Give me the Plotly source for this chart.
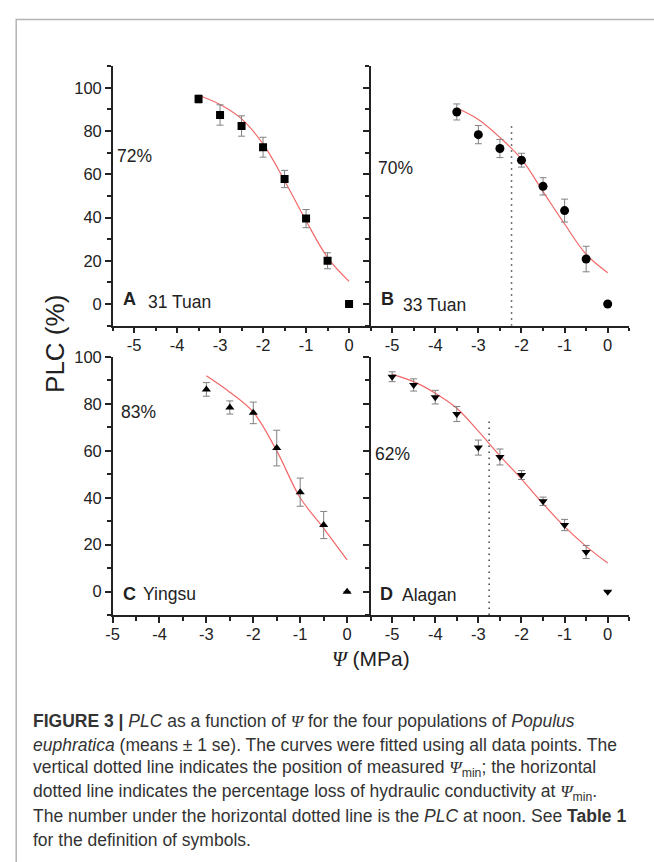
import plotly.graph_objects as go

# ---------------- data ----------------
psi_A = [-3.5, -3.0, -2.5, -2.0, -1.5, -1.0, -0.5, 0.0]
plc_A = [94.8, 87.4, 82.3, 72.5, 57.8, 39.5, 20.0, 0.0]
se_A = [1.9, 4.7, 4.7, 4.6, 4.0, 4.2, 3.7, 0.0]
fit_psi_A = [-3.5, -3.0, -2.5, -2.0, -1.5, -1.0, -0.5, 0.0]
fit_plc_A = [96.5, 92.2, 85.6, 74.0, 57.0, 38.5, 21.5, 10.5]

psi_B = [-3.5, -3.0, -2.5, -2.0, -1.5, -1.0, -0.5, 0.0]
plc_B = [88.8, 78.3, 71.9, 66.5, 54.4, 43.2, 20.8, 0.0]
se_B = [3.7, 4.2, 4.2, 3.2, 4.0, 5.3, 5.9, 0.0]
fit_psi_B = [-3.5, -3.0, -2.5, -2.0, -1.5, -1.0, -0.5, 0.0]
fit_plc_B = [90.6, 85.3, 77.0, 67.0, 52.0, 37.0, 23.0, 14.5]

psi_C = [-3.0, -2.5, -2.0, -1.5, -1.0, -0.5, 0.0]
plc_C = [86.2, 78.5, 76.2, 61.2, 42.4, 28.4, 0.0]
se_C = [2.9, 2.8, 4.6, 7.6, 6.0, 5.8, 0.0]
fit_psi_C = [-3.0, -2.5, -2.0, -1.5, -1.0, -0.5, 0.0]
fit_plc_C = [92.0, 85.0, 76.5, 60.0, 40.0, 27.0, 13.5]

psi_D = [-5.0, -4.5, -4.0, -3.5, -3.0, -2.5, -2.0, -1.5, -1.0, -0.5, 0.0]
plc_D = [91.6, 88.1, 82.9, 75.7, 61.4, 57.4, 49.7, 38.5, 28.4, 16.9, 0.0]
se_D = [2.1, 2.6, 2.9, 3.2, 3.2, 3.4, 1.9, 1.8, 2.4, 2.8, 0.0]
fit_psi_D = [-5.0, -4.5, -4.0, -3.5, -3.0, -2.5, -2.0, -1.5, -1.0, -0.5, 0.0]
fit_plc_D = [92.6, 89.5, 84.6, 78.2, 68.4, 57.9, 48.0, 37.5, 27.7, 19.3, 12.2]

# measured Psi_min (vertical dotted lines) and PLC at noon labels
psimin_B = -2.23
psimin_top_B = 84.0
psimin_D = -2.75
psimin_top_D = 73.6
noon_labels = ["72%", "70%", "83%", "62%"]
panel_letters = ["A", "B", "C", "D"]
panel_names = ["31 Tuan", "33 Tuan", "Yingsu", "Alagan"]
x_ticks = [-5, -4, -3, -2, -1, 0]
y_ticks = [0, 20, 40, 60, 80, 100]

# ---------------- layout helpers ----------------
W, H = 654, 862
FONT = "Liberation Sans"
INK = "#222222"


def px_x(p):
    return p / W


def px_y(p):
    return 1 - p / H


fig = go.Figure()

panels = [
    ("x", "y", psi_A, plc_A, se_A, fit_psi_A, fit_plc_A, "square", 8),
    ("x2", "y2", psi_B, plc_B, se_B, fit_psi_B, fit_plc_B, "circle", 9),
    ("x3", "y3", psi_C, plc_C, se_C, fit_psi_C, fit_plc_C, "triangle-up", 8),
    ("x4", "y4", psi_D, plc_D, se_D, fit_psi_D, fit_plc_D, "triangle-down", 8),
]

for xa, ya, px_, py_, se_, fx, fy, sym, msz in panels:
    fig.add_trace(go.Scatter(
        x=fx, y=fy, xaxis=xa, yaxis=ya, mode="lines",
        line=dict(color="#f26868", width=1.2, shape="spline", smoothing=1.0),
        hoverinfo="skip"))
    fig.add_trace(go.Scatter(
        x=px_, y=py_, xaxis=xa, yaxis=ya, mode="markers",
        marker=dict(symbol=sym, size=msz, color="black"),
        error_y=dict(type="data", array=se_, color="#808080", thickness=1, width=3.5)))

# vertical dotted lines (Psi_min)
for xa, ya, pm, top in [("x2", "y2", psimin_B, psimin_top_B), ("x4", "y4", psimin_D, psimin_top_D)]:
    fig.add_trace(go.Scatter(
        x=[pm, pm], y=[-10, top], xaxis=xa, yaxis=ya, mode="lines",
        line=dict(color="#444444", width=1.5, dash="1.5px,4.5px"), hoverinfo="skip"))

xdom_L = [px_x(106.7), px_x(367.5)]
xdom_R = [px_x(367.5), px_x(629.0)]
ydom_T = [px_y(320.0), px_y(57.7)]
ydom_B = [px_y(612.5), px_y(351.7)]

common = dict(
    showline=True, linecolor=INK, linewidth=2, mirror=False, showgrid=False,
    zeroline=False, ticks="outside", ticklen=5.5, tickwidth=1.5, tickcolor=INK,
    tickfont=dict(family=FONT, size=16.5, color=INK),
)


def xax(dom, anchor, rng):
    d = dict(common)
    d.update(domain=dom, anchor=anchor, range=rng, tickmode="array", tickvals=x_ticks,
             ticktext=[str(v) for v in x_ticks], ticklabelstandoff=-2,
             minor=dict(ticks="outside", ticklen=3.5, tickwidth=1.5, tickcolor=INK,
                        dtick=0.5, tick0=0, showgrid=False))
    return d


def yax(dom, anchor, rng, labels):
    d = dict(common)
    d.update(domain=dom, anchor=anchor, range=rng, tickmode="array", tickvals=y_ticks,
             ticktext=[str(v) for v in y_ticks], showticklabels=labels,
             minor=dict(ticks="outside", ticklen=3.5, tickwidth=1.5, tickcolor=INK,
                        dtick=10, tick0=0, showgrid=False))
    return d


fig.update_layout(
    width=W, height=H, autosize=False,
    margin=dict(l=0, r=0, t=0, b=0),
    paper_bgcolor="white", plot_bgcolor="white",
    showlegend=False,
    font=dict(family=FONT, color=INK),
    xaxis=xax(xdom_L, "y", [-5.5, 0.5]),
    yaxis=yax(ydom_T, "x", [-10, 110], True),
    xaxis2=xax(xdom_R, "y2", [-5.5, 0.5]),
    yaxis2=yax(ydom_T, "x2", [-10, 110], False),
    xaxis3=xax(xdom_L, "y3", [-5.0, 0.5]),
    yaxis3=yax(ydom_B, "x3", [-10, 100], True),
    xaxis4=xax(xdom_R, "y4", [-5.5, 0.5]),
    yaxis4=yax(ydom_B, "x4", [-10, 100], False),
)

ann = []
# PLC at noon labels
noon_pos = [("x", "y", -5.44, 68.4), ("x2", "y2", -5.38, 63.1),
            ("x3", "y3", -4.87, 76.7), ("x4", "y4", -5.45, 58.5)]
for (xr, yr, xv, yv), t in zip(noon_pos, noon_labels):
    ann.append(dict(x=xv, y=yv, xref=xr, yref=yr, text=t, showarrow=False,
                    xanchor="left", yanchor="middle",
                    font=dict(family=FONT, size=17.5, color=INK)))

# panel letters and names
letter_pos = [("x", "y", -5.30, 2.5, -4.72, 1.0), ("x2", "y2", -5.30, 2.5, -4.80, -0.3),
              ("x3", "y3", -4.82, -0.8, -4.39, -1.0), ("x4", "y4", -5.32, -0.8, -4.81, -1.6)]
for (xr, yr, lx, ly, nx, ny), L, N in zip(letter_pos, panel_letters, panel_names):
    ann.append(dict(x=lx, y=ly, xref=xr, yref=yr, text="<b>%s</b>" % L, showarrow=False,
                    xanchor="left", yanchor="middle",
                    font=dict(family=FONT, size=18, color=INK)))
    ann.append(dict(x=nx, y=ny, xref=xr, yref=yr, text=N, showarrow=False,
                    xanchor="left", yanchor="middle",
                    font=dict(family=FONT, size=17.5, color=INK)))

# axis titles
ann.append(dict(x=px_x(49), y=px_y(338), xref="paper", yref="paper", text="PLC (%)",
                showarrow=False, textangle=-90, xanchor="center", yanchor="middle",
                font=dict(family=FONT, size=26, color=INK)))
PSI = "<span style=\"font-family:'Liberation Serif'\"><i>Ψ</i></span>"
ann.append(dict(x=px_x(367.5), y=px_y(657), xref="paper", yref="paper",
                text=PSI + " (MPa)", showarrow=False, xanchor="center", yanchor="middle",
                font=dict(family=FONT, size=21, color=INK)))

# caption
cap_lines = [
    "<b>FIGURE 3 |</b> <i>PLC</i> as a function of " + PSI + " for the four populations of <i>Populus</i>",
    "<i>euphratica</i> (means ± 1 se). The curves were fitted using all data points. The",
    "vertical dotted line indicates the position of measured " + PSI + "<sub>min</sub>; the horizontal",
    "dotted line indicates the percentage loss of hydraulic conductivity at " + PSI + "<sub>min</sub>.",
    "The number under the horizontal dotted line is the <i>PLC</i> at noon. See <b>Table 1</b>",
    "for the definition of symbols.",
]
cap_y = [720, 744, 768, 792, 816, 840]
for t, yv in zip(cap_lines, cap_y):
    ann.append(dict(x=px_x(24.5), y=px_y(yv), xref="paper", yref="paper", text=t,
                    showarrow=False, xanchor="left", yanchor="middle", align="left",
                    font=dict(family=FONT, size=17.5, color="#333333")))

fig.update_layout(annotations=ann)

# frame around figure
fig.add_shape(type="rect", xref="paper", yref="paper",
              x0=px_x(9.3), x1=1.05, y0=-0.05, y1=px_y(10.5),
              line=dict(color="#b4b4b4", width=1.5), fillcolor="rgba(0,0,0,0)", layer="below")

fig.write_html("out.html")
